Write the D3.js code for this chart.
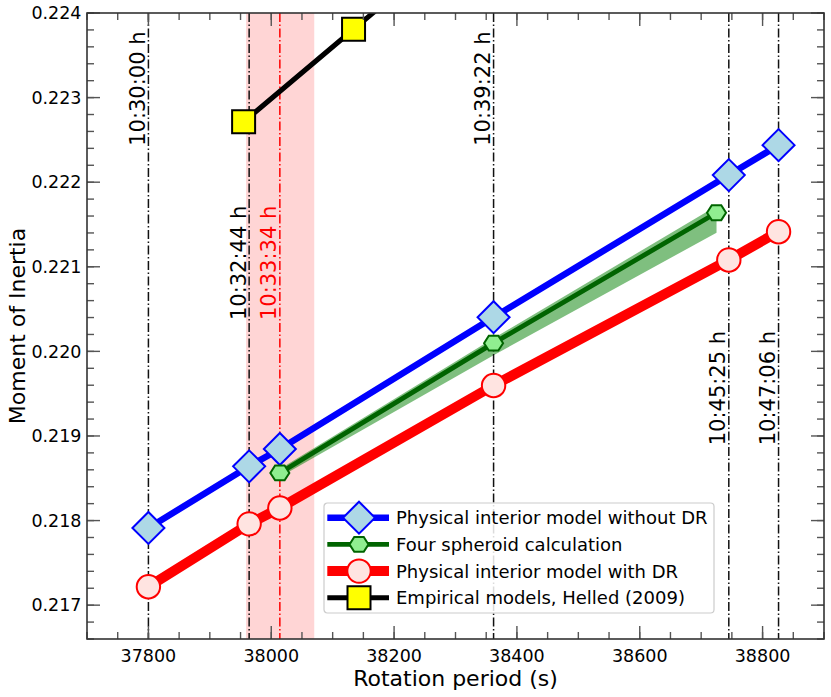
<!DOCTYPE html>
<html>
<head>
<meta charset="utf-8">
<script src="https://cdn.jsdelivr.net/npm/d3@7"></script>
<style>
  body { margin: 0; background: #fff; }
  svg { font-family: "DejaVu Sans", sans-serif; }
</style>
</head>
<body>
<svg id="chart" width="831" height="697"></svg>
<script>
// rotation periods (s) and moment of inertia values
var periodsModel = [37800, 37964, 38014, 38362, 38745, 38826];
var moiNoDR = [0.217913, 0.218641, 0.218846, 0.220404, 0.222084, 0.222438];
var moiDR = [0.217217, 0.217961, 0.218149, 0.219597, 0.221081, 0.221415];

var periodsSpheroid = [38014, 38362, 38725];
var moiSpheroid = [0.218563, 0.220097, 0.221639];
var spheroidLow = [0.218516, 0.219955, 0.221403];
var spheroidHigh = [0.21861, 0.220156, 0.221718];

var periodsHelled = [37955, 38134, 38362];
var moiHelled = [0.222713, 0.223808, 0.2252];

// reference rotation periods (vertical lines)
var refPeriods = [37800, 37964, 38014, 38362, 38745, 38826];
var refLabels = ["10:30:00 h", "10:32:44 h", "10:33:34 h", "10:39:22 h", "10:45:25 h", "10:47:06 h"];
var refLabelY = [0.22243, 0.22037, 0.22037, 0.22243, 0.21889, 0.21889];
var refIsVoyager = [false, false, true, false, false, false];
var voyagerBand = [37959, 38070];

var xTicks = [37800, 38000, 38200, 38400, 38600, 38800];
var yTicks = [0.217, 0.218, 0.219, 0.220, 0.221, 0.222, 0.223, 0.224];

var legendLabels = [
    "Physical interior model without DR",
    "Four spheroid calculation",
    "Physical interior model with DR",
    "Empirical models, Helled (2009)"
];

var margin = { top: 13, right: 7, bottom: 58, left: 87 };
var width = 831 - margin.left - margin.right;
var height = 697 - margin.top - margin.bottom;

var svg = d3.select("#chart");
var g = svg.append("g").attr("transform", "translate(" + margin.left + "," + margin.top + ")");

var x = d3.scaleLinear().domain([37700, 38900]).range([0, width]);
var y = d3.scaleLinear().domain([0.2166, 0.224]).range([height, 0]);

g.append("clipPath").attr("id", "plotclip")
    .append("rect").attr("width", width).attr("height", height);

var plot = g.append("g").attr("clip-path", "url(#plotclip)");

function hexagon(r) {
    var pts = d3.range(6).map(function(i) {
        var a = i * Math.PI / 3;
        return [r * Math.cos(a), r * 0.9 * Math.sin(a)];
    });
    return "M" + pts.join("L") + "Z";
}

function diamond(r) {
    return "M" + [[0, -r], [r, 0], [0, r], [-r, 0]].join("L") + "Z";
}

// shaded band around the Voyager period
plot.append("rect")
    .attr("x", x(voyagerBand[0]))
    .attr("width", x(voyagerBand[1]) - x(voyagerBand[0]))
    .attr("y", 0)
    .attr("height", height)
    .style("fill", "red")
    .style("fill-opacity", 0.165);

// uncertainty band of the four spheroid calculation
var bandData = periodsSpheroid.map(function(p, i) { return { p: p, lo: spheroidLow[i], hi: spheroidHigh[i] }; });
plot.append("path")
    .datum(bandData)
    .attr("d", d3.area().x(function(d) { return x(d.p); })
        .y0(function(d) { return y(d.lo); })
        .y1(function(d) { return y(d.hi); }))
    .style("fill", "green")
    .style("fill-opacity", 0.5);

// vertical reference lines
plot.selectAll("line.ref")
    .data(refPeriods)
    .enter().append("line")
    .attr("class", "ref")
    .attr("x1", function(d) { return x(d); })
    .attr("x2", function(d) { return x(d); })
    .attr("y1", 0)
    .attr("y2", height)
    .style("stroke", function(d, i) { return refIsVoyager[i] ? "red" : "#111"; })
    .style("stroke-width", 1.5)
    .style("stroke-dasharray", "9,2.5,1.5,2.5");

plot.selectAll("text.reflabel")
    .data(refPeriods)
    .enter().append("text")
    .attr("class", "reflabel")
    .attr("transform", function(d, i) {
        return "translate(" + (x(d) - 3.5) + "," + y(refLabelY[i]) + ") rotate(-90)";
    })
    .style("font-size", "21px")
    .style("fill", function(d, i) { return refIsVoyager[i] ? "red" : "#000"; })
    .text(function(d, i) { return refLabels[i]; });

var series = [
    { xs: periodsModel, ys: moiNoDR, color: "blue", lw: 6.5, marker: "diamond", fill: "lightblue", edge: "blue" },
    { xs: periodsSpheroid, ys: moiSpheroid, color: "darkgreen", lw: 4.8, marker: "hexagon", fill: "lightgreen", edge: "darkgreen" },
    { xs: periodsModel, ys: moiDR, color: "red", lw: 10, marker: "circle", fill: "mistyrose", edge: "red" },
    { xs: periodsHelled, ys: moiHelled, color: "black", lw: 5, marker: "square", fill: "yellow", edge: "black" }
];

function markerPath(type) {
    if (type === "diamond") return diamond(16);
    if (type === "hexagon") return hexagon(9.5);
    if (type === "circle") return d3.symbol().type(d3.symbolCircle).size(Math.PI * 11.7 * 11.7)();
    return d3.symbol().type(d3.symbolSquare).size(23 * 23)();
}

var line = d3.line().x(function(d) { return x(d[0]); }).y(function(d) { return y(d[1]); });

series.forEach(function(s) {
    var pts = s.xs.map(function(p, i) { return [p, s.ys[i]]; });
    plot.append("path")
        .datum(pts)
        .attr("d", line)
        .style("fill", "none")
        .style("stroke", s.color)
        .style("stroke-width", s.lw)
        .style("stroke-linejoin", "round");
    plot.selectAll(null)
        .data(pts)
        .enter().append("path")
        .attr("transform", function(d) { return "translate(" + x(d[0]) + "," + y(d[1]) + ")"; })
        .attr("d", markerPath(s.marker))
        .style("fill", s.fill)
        .style("stroke", s.edge)
        .style("stroke-width", 2);
});

// axes with inward ticks on all four sides
var tickColor = "#555";
var xMinor = d3.range(37700, 38901, 50);
var yMinor = d3.range(0, 38).map(function(i) { return 0.2166 + i * 0.0002; }).filter(function(v) { return v <= 0.22401; });

function drawTicks(values, len, cls) {
    var t = g.append("g").attr("class", cls);
    values.forEach(function(v) {
        t.append("line").attr("x1", x(v)).attr("x2", x(v)).attr("y1", height).attr("y2", height - len);
        t.append("line").attr("x1", x(v)).attr("x2", x(v)).attr("y1", 0).attr("y2", len);
    });
    return t;
}
function drawYTicks(values, len, cls) {
    var t = g.append("g").attr("class", cls);
    values.forEach(function(v) {
        t.append("line").attr("y1", y(v)).attr("y2", y(v)).attr("x1", 0).attr("x2", len);
        t.append("line").attr("y1", y(v)).attr("y2", y(v)).attr("x1", width).attr("x2", width - len);
    });
    return t;
}
drawTicks(xMinor, 7, "x minor");
drawTicks(xTicks, 13, "x major");
drawYTicks(yMinor, 7, "y minor");
drawYTicks(yTicks, 13, "y major");
g.selectAll(".minor line, .major line").style("stroke", tickColor).style("stroke-width", 1.4);

g.append("rect")
    .attr("width", width).attr("height", height)
    .style("fill", "none").style("stroke", "#333").style("stroke-width", 1.6);

g.selectAll("text.xtick")
    .data(xTicks)
    .enter().append("text")
    .attr("class", "xtick")
    .attr("x", function(d) { return x(d); })
    .attr("y", height + 22.7)
    .attr("text-anchor", "middle")
    .style("font-size", "17.5px")
    .text(function(d) { return d; });

g.selectAll("text.ytick")
    .data(yTicks)
    .enter().append("text")
    .attr("class", "ytick")
    .attr("x", -5.5)
    .attr("y", function(d) { return y(d); })
    .attr("dy", "0.36em")
    .attr("text-anchor", "end")
    .style("font-size", "17.5px")
    .text(function(d) { return d3.format(".3f")(d); });

g.append("text")
    .attr("x", width / 2)
    .attr("y", height + 46.5)
    .attr("text-anchor", "middle")
    .style("font-size", "22px")
    .text("Rotation period (s)");

g.append("text")
    .attr("transform", "translate(" + (25 - margin.left) + "," + (height / 2) + ") rotate(-90)")
    .attr("text-anchor", "middle")
    .style("font-size", "22px")
    .text("Moment of Inertia");

// legend
var legend = svg.append("g").attr("class", "legend").attr("transform", "translate(324,503)");
legend.append("rect")
    .attr("width", 390).attr("height", 110)
    .attr("rx", 3.5)
    .style("fill", "#fff").style("fill-opacity", 0.85)
    .style("stroke", "#ccc").style("stroke-width", 1.2);

var item = legend.selectAll("g.legendItem")
    .data(series)
    .enter().append("g")
    .attr("class", "legendItem")
    .attr("transform", function(d, i) { return "translate(0," + (14.7 + i * 26.7) + ")"; });

item.append("line")
    .attr("x1", 3.3).attr("x2", 65)
    .style("stroke", function(d) { return d.color; })
    .style("stroke-width", function(d) { return d.lw; });

item.append("path")
    .attr("transform", "translate(35,0)")
    .attr("d", function(d) { return markerPath(d.marker); })
    .style("fill", function(d) { return d.fill; })
    .style("stroke", function(d) { return d.edge; })
    .style("stroke-width", 2);

item.append("text")
    .attr("x", 72)
    .attr("dy", "0.36em")
    .style("font-size", "18px")
    .text(function(d, i) { return legendLabels[i]; });
</script>
</body>
</html>
